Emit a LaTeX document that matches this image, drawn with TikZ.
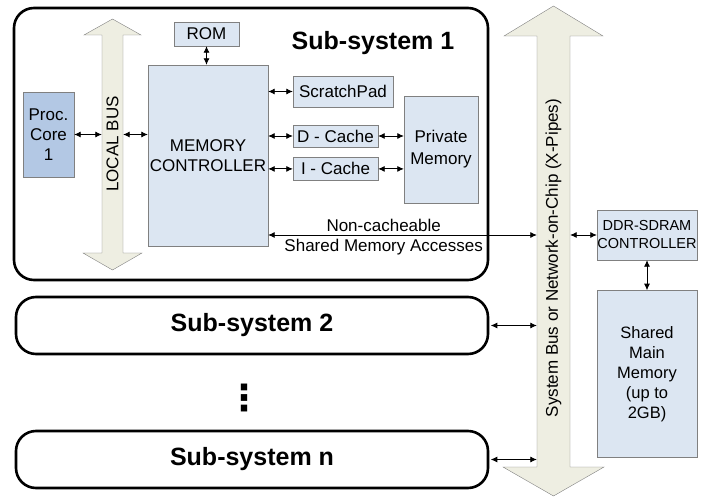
\documentclass[tikz,border=0pt]{standalone}
\usepackage{fontspec}
\setmainfont{Liberation Sans}
\newfontfamily\symfont{DejaVu Sans}
\usepackage{graphicx}
\usetikzlibrary{arrows, arrows.meta, positioning}

\definecolor{boxblue}{HTML}{DCE6F2}
\definecolor{coreblue}{HTML}{B3C8E4}
\definecolor{busfill}{HTML}{EEEEE2}
\definecolor{edgegray}{HTML}{808080}
\newcommand{\fs}[2]{\fontsize{#1}{#2}\selectfont}

\begin{document}
\begin{tikzpicture}[x=1pt,y=-1pt,>={Latex[length=6.5pt,width=6pt]},thin]
                \tikzset{unit/.style={draw=edgegray, fill=boxblue, inner sep=0pt, align=center, font=\fs{17}{20}},
                         subsys/.style={draw, line width=2.6pt, rounded corners=20pt, inner sep=0pt, font=\fs{25}{30}\bfseries},
                         bus/.style={draw=edgegray, fill=busfill},
                         link/.style={<->, line width=0.8pt}}

                \useasboundingbox (0,0) rectangle (710,497);

                % sub-systems
                \node[subsys, minimum width=474, minimum height=272] (ss1) at (251,144) {};
                \node[font=\fs{25}{30}\bfseries] (ss1title) at (373,43) {Sub-system 1};
                \node[subsys, minimum width=472, minimum height=57] (ss2) at (252,325.5) {Sub-system 2};
                \node[subsys, minimum width=472, minimum height=57] (ssn) at (252,459.5) {Sub-system n};
                \node[font=\symfont\fs{36}{40}\bfseries, inner sep=0pt] (dots) at (244,398) {⋮};

                % buses
                \draw[bus] (102,253) -- (83,253) -- (112.5,270) -- (142,253) -- (123,253) -- (123,35)
                           -- (141,35) -- (112.5,19) -- (84,35) -- (102,35) -- cycle;
                \node[minimum width=21, minimum height=218, inner sep=0pt, font=\fs{17}{20}] (lbus) at (112.5,144) {\rotatebox{90}{LOCAL BUS}};
                \draw[bus] (537,467) -- (503,467) -- (553.5,496) -- (604,467) -- (570,467) -- (570,36)
                           -- (603,36) -- (553.5,6) -- (504,36) -- (537,36) -- cycle;
                \node[minimum width=33, minimum height=400, inner sep=0pt, font=\fs{17}{20}] (sbus) at (553.5,258) {\rotatebox{90}{System Bus or Network-on-Chip (X-Pipes)}};

                % units
                \node[unit, fill=coreblue, minimum width=51, minimum height=85] (core) at (48.5,134.5) {Proc.\\Core\\1};
                \node[unit, minimum width=120, minimum height=181] (mc) at (208,155.5) {MEMORY\\CONTROLLER};
                \node[unit, minimum width=65, minimum height=24] (rom) at (206.5,34) {ROM};
                \node[unit, minimum width=100, minimum height=31] (sp) at (343,91.5) {ScratchPad};
                \node[unit, minimum width=85, minimum height=22] (dc) at (335.5,136) {D - Cache};
                \node[unit, minimum width=85, minimum height=23] (ic) [below=10pt of dc] {I - Cache};
                \node[unit, minimum width=74, minimum height=107, font=\fs{17}{22}] (pm) at (441,149.5) {Private\\Memory};
                \node[unit, minimum width=100, minimum height=50, font=\fs{14.5}{18}] (ddr) at (647,235) {DDR-SDRAM\\CONTROLLER};
                \node[unit, minimum width=100, minimum height=167, font=\fs{16.5}{20}] (mem) [below=30pt of ddr] {Shared\\Main\\Memory\\(up to\\2GB)};

                % connections
                \draw[link] (core) -- (lbus.west |- core);
                \draw[link] (lbus.east |- core) -- (mc.west |- core);
                \draw[link] (rom) -- (rom |- mc.north);
                \draw[link] (mc.east |- sp) -- (sp);
                \draw[link] (mc.east |- dc) -- (dc);
                \draw[link] (mc.east |- ic) -- (ic);
                \draw[link] (dc) -- (pm.west |- dc);
                \draw[link] (ic) -- (pm.west |- ic);
                \draw[link] (mc.east |- ddr) -- (sbus.west |- ddr)
                      node[pos=0.43, above=0pt, font=\fs{17}{20}] {Non-cacheable}
                      node[pos=0.43, below=0pt, font=\fs{17}{20}] {Shared Memory Accesses};
                \draw[link] (sbus.east |- ddr) -- (ddr);
                \draw[link] (ddr) -- (mem);
                \draw[link, shorten <=1.5pt] (ss2) -- (sbus.west |- ss2);
                \draw[link, shorten <=1.5pt] (ssn) -- (sbus.west |- ssn);
            \end{tikzpicture}
\end{document}
